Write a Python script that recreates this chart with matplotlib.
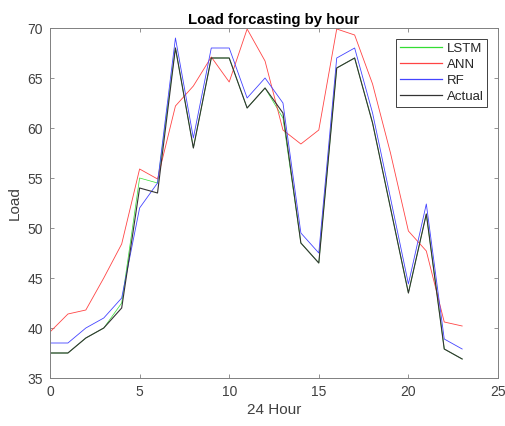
import matplotlib
matplotlib.use("Agg")
import matplotlib.pyplot as plt

plt.rcParams['font.family'] = ['Liberation Sans', 'DejaVu Sans']

# Datos
hours  = list(range(24))
lstm   = [37.5, 37.5, 39, 40, 42.5, 55, 54.5, 68, 58, 67, 67, 62,
          64, 61, 48.5, 46.5, 66, 67, 60.5, 52, 43.5, 51.4, 37.9, 36.9]
ann    = [39.6, 41.4, 41.8, 45, 48.4, 55.9, 54.9, 62.2, 64.2, 67.1, 64.6, 69.9,
          66.7, 59.8, 58.4, 59.8, 69.9, 69.3, 64.4, 57.5, 49.7, 47.7, 40.6, 40.2]
rf     = [38.5, 38.5, 40, 41, 43, 52, 54.5, 69, 59, 68, 68, 63,
          65, 62.5, 49.5, 47.5, 67, 68, 61.5, 53, 44.4, 52.4, 38.9, 37.9]
actual = [37.5, 37.5, 39, 40, 42, 54, 53.5, 68, 58, 67, 67, 62,
          64, 61.5, 48.5, 46.5, 66, 67, 60.5, 52, 43.5, 51.4, 37.9, 36.9]

fig = plt.figure(figsize=(5.05, 4.26), dpi=100)
ax = fig.add_axes([50/505, 1 - 378/426, 448/505, 350/426])

ax.plot(hours, lstm,   color='#33dd33', linewidth=0.5, label='LSTM')
ax.plot(hours, ann,    color='#ff4444', linewidth=0.6, label='ANN')
ax.plot(hours, rf,     color='#4444ff', linewidth=0.6, label='RF')
ax.plot(hours, actual, color='#333333', linewidth=0.8, label='Actual')

ax.set_xlim(0, 25)
ax.set_ylim(35, 70)
ax.set_xticks([0, 5, 10, 15, 20, 25])
ax.set_yticks([35, 40, 45, 50, 55, 60, 65, 70])
ax.tick_params(direction='in', top=True, right=True, labelsize=10,
               labelcolor='#404040', color='#808080', length=3, width=0.6, pad=5)
for s in ax.spines.values():
    s.set_color('#808080')
    s.set_linewidth(0.7)

ax.set_xlabel('24 Hour', fontsize=11, color='#404040', labelpad=3)
ax.set_ylabel('Load', fontsize=11, color='#404040', labelpad=4)
ax.set_title('Load forcasting by hour', fontsize=10.8, fontweight='bold', pad=3)

leg = ax.legend(loc='upper right', fontsize=9.5, fancybox=False, framealpha=1,
                edgecolor='#404040', borderaxespad=0.8, handlelength=3.2,
                handletextpad=0.35, labelspacing=0.28, borderpad=0.3)
leg.get_frame().set_linewidth(0.7)
for t in leg.get_texts():
    t.set_color('#262626')
for h in leg.get_lines():
    h.set_linewidth(0.9)

plt.savefig('out.png', dpi=100)
